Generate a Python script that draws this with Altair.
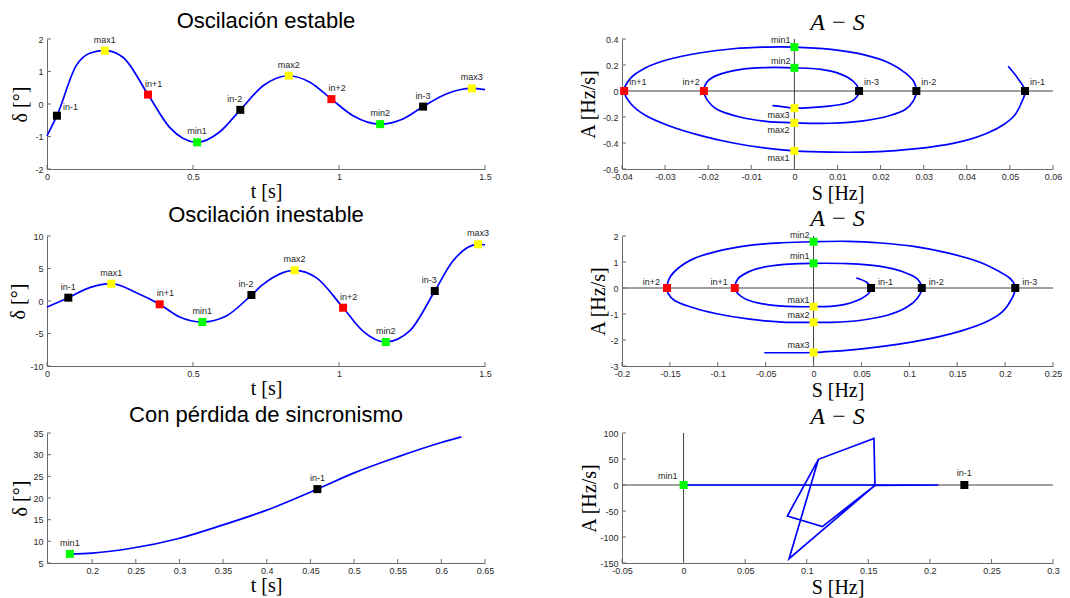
import altair as alt
import pandas as pd

# ---------------- Panel 1: Oscilación estable ----------------
t1 = [0.0, 0.034, 0.1, 0.146, 0.198, 0.26, 0.346, 0.42, 0.514, 0.59, 0.662, 0.74,
      0.828, 0.90, 0.974, 1.048, 1.141, 1.219, 1.288, 1.367, 1.455, 1.5]
d1 = [-0.98, -0.36, 1.18, 1.56, 1.65, 1.44, 0.29, -0.72, -1.18, -0.87, -0.18, 0.56,
      0.87, 0.67, 0.15, -0.36, -0.62, -0.46, -0.08, 0.31, 0.48, 0.44]
m1_lbl = ["in-1", "max1", "in+1", "min1", "in-2", "max2", "in+2", "min2", "in-3", "max3"]
m1_x = [0.034, 0.198, 0.346, 0.514, 0.662, 0.828, 0.974, 1.141, 1.288, 1.455]
m1_y = [-0.36, 1.64, 0.29, -1.18, -0.18, 0.87, 0.15, -0.62, -0.08, 0.48]
m1_pos = ["r", "t", "tr", "t", "tl", "t", "tr", "t", "t", "t"]

# ---------------- Panel 3: Oscilación inestable ----------------
t3 = [0.0, 0.073, 0.146, 0.22, 0.306, 0.386, 0.454, 0.532, 0.614, 0.70, 0.74,
      0.848, 0.922, 1.014, 1.082, 1.16, 1.242, 1.328, 1.39, 1.476, 1.5]
d3 = [-0.92, 0.51, 2.05, 2.66, 1.28, -0.51, -2.46, -3.23, -2.3, 0.92, 2.56,
      4.72, 3.59, -1.03, -4.62, -6.31, -4.6, 1.54, 6.15, 8.72, 8.65]
m3_lbl = ["in-1", "max1", "in+1", "min1", "in-2", "max2", "in+2", "min2", "in-3", "max3"]
m3_x = [0.073, 0.22, 0.386, 0.532, 0.70, 0.848, 1.014, 1.16, 1.328, 1.476]
m3_y = [0.51, 2.66, -0.51, -3.23, 0.92, 4.72, -1.03, -6.31, 1.54, 8.72]
m3_pos = ["t", "t", "tr", "t", "tl", "t", "tr", "t", "tl", "t"]

# ---------------- Panel 5: Con pérdida de sincronismo ----------------
t5 = [0.1745, 0.2, 0.245, 0.298, 0.35, 0.4, 0.458, 0.5, 0.55, 0.6, 0.623]
d5 = [7.1, 7.3, 8.4, 10.6, 13.8, 17.2, 22.05, 25.8, 29.5, 32.8, 34.1]
m5_lbl = ["min1", "in-1"]
m5_x = [0.1745, 0.458]
m5_y = [7.1, 22.05]
m5_pos = ["t", "t"]

# ---------------- Panel 2: A-S (estable) ----------------
s2 = [0.0496, 0.0518, 0.0535,
      0.0526, 0.0511, 0.0485, 0.0447, 0.0386, 0.0311, 0.0235, 0.016, 0.0085, 0.0,
      -0.0066, -0.0142, -0.0217, -0.0293, -0.0346, -0.038, -0.0395,
      -0.038, -0.0346, -0.0293, -0.0217, -0.0142, -0.0066, 0.0, 0.0085, 0.016,
      0.022, 0.0258, 0.0277, 0.0283,
      0.0277, 0.0258, 0.022, 0.016, 0.0085, 0.0, -0.0066, -0.0127, -0.018, -0.0202, -0.021,
      -0.0202, -0.018, -0.0127, -0.0066, 0.0, 0.0062, 0.0107, 0.0137, 0.015,
      0.0137, 0.0107, 0.0062, 0.0, -0.0029, -0.0051]
a2 = [0.19, 0.099, 0.0,
      -0.096, -0.187, -0.26, -0.325, -0.39, -0.434, -0.458, -0.47, -0.47, -0.46,
      -0.44, -0.40, -0.343, -0.265, -0.187, -0.096, 0.0,
      0.099, 0.177, 0.242, 0.294, 0.325, 0.338, 0.338, 0.32, 0.28,
      0.216, 0.138, 0.073, 0.0,
      -0.07, -0.14, -0.19, -0.23, -0.248, -0.245, -0.234, -0.2, -0.14, -0.07, 0.0,
      0.073, 0.12, 0.164, 0.18, 0.178, 0.166, 0.13, 0.073, 0.0,
      -0.07, -0.104, -0.122, -0.132, -0.12, -0.112]
m2_lbl = ["in-1", "max1", "in+1", "min1", "in-2", "max2", "in+2", "min2", "in-3", "max3"]
m2_x = [0.0535, 0.0, -0.0395, 0.0, 0.0283, 0.0, -0.021, 0.0, 0.015, 0.0]
m2_y = [0.0, -0.46, 0.0, 0.338, 0.0, -0.245, 0.0, 0.178, 0.0, -0.132]
m2_pos = ["r2", "bl", "r2", "ul", "r2", "bl", "l2", "ul", "r2", "bl"]

# ---------------- Panel 4: A-S (inestable) ----------------
s4 = [0.0445, 0.055, 0.06,
      0.058, 0.048, 0.027, 0.0, -0.042, -0.07, -0.079, -0.0822,
      -0.0788, -0.0668, -0.0497, -0.0257, 0.0, 0.036, 0.0702, 0.094, 0.108, 0.113,
      0.108, 0.0976, 0.077, 0.0497, 0.019, 0.0, -0.0325, -0.0668, -0.101, -0.128,
      -0.1455, -0.1517, -0.153,
      -0.1507, -0.142, -0.125, -0.101, -0.0668, -0.0325, 0.0, 0.036, 0.0702, 0.1045,
      0.1387, 0.173, 0.1935, 0.2055, 0.2106,
      0.207, 0.197, 0.18, 0.156, 0.1216, 0.0873, 0.053, 0.019, 0.0, -0.0325, -0.0514]
a4 = [0.385, 0.23, 0.0,
      -0.18, -0.44, -0.67, -0.72, -0.67, -0.44, -0.22, 0.0,
      0.36, 0.64, 0.82, 0.92, 0.95, 0.936, 0.83, 0.615, 0.36, 0.0,
      -0.41, -0.73, -1.05, -1.24, -1.32, -1.32, -1.31, -1.2, -0.99, -0.73,
      -0.47, -0.22, 0.0,
      0.36, 0.74, 1.13, 1.41, 1.64, 1.74, 1.78, 1.795, 1.73, 1.6,
      1.36, 1.0, 0.64, 0.36, 0.0,
      -0.41, -0.92, -1.31, -1.63, -1.95, -2.17, -2.33, -2.44, -2.48, -2.49, -2.49]
m4_lbl = ["in-1", "max1", "in+1", "min1", "in-2", "max2", "in+2", "min2", "in-3", "max3"]
m4_x = [0.06, 0.0, -0.0822, 0.0, 0.113, 0.0, -0.153, 0.0, 0.2106, 0.0]
m4_y = [0.0, -0.72, 0.0, 0.95, 0.0, -1.32, 0.0, 1.78, 0.0, -2.48]
m4_pos = ["r4", "ul", "l4", "ul", "r4", "ul", "l4", "ul", "r4", "ul"]

# ---------------- Panel 6: A-S (pérdida de sincronismo) ----------------
s6 = [0.0, 0.207, 0.1554, 0.1546, 0.1095, 0.0843, 0.1127, 0.1554, 0.0857, 0.1095]
a6 = [0.0, 0.0, -0.6, 89.7, 49.4, -59.6, -80.1, -0.6, -141.7, 49.4]
m6_lbl = ["min1", "in-1"]
m6_x = [0.0, 0.228]
m6_y = [0.0, 0.0]
m6_pos = ["l6", "t7"]

# ---------------- ticks ----------------
xt1 = [0, 0.5, 1, 1.5]
yt1 = [-2, -1, 0, 1, 2]
yt3 = [-10, -5, 0, 5, 10]
xt5 = [0.2, 0.25, 0.3, 0.35, 0.4, 0.45, 0.5, 0.55, 0.6, 0.65]
yt5 = [5, 10, 15, 20, 25, 30, 35]
xt2 = [-0.04, -0.03, -0.02, -0.01, 0, 0.01, 0.02, 0.03, 0.04, 0.05, 0.06]
yt2 = [-0.6, -0.4, -0.2, 0, 0.2, 0.4]
xt4 = [-0.2, -0.15, -0.1, -0.05, 0, 0.05, 0.1, 0.15, 0.2, 0.25]
yt4 = [-3, -2, -1, 0, 1, 2]
xt6 = [-0.05, 0, 0.05, 0.1, 0.15, 0.2, 0.25, 0.3]
yt6 = [-150, -100, -50, 0, 50, 100]

COLORS = {"max": "#ffff00", "min": "#00ff00", "in+": "#ff0000", "in-": "#000000"}
POS = {
    "t": ("center", "bottom", 0, -6),
    "t7": ("center", "bottom", 0, -7),
    "tr": ("left", "bottom", -3, -6),
    "tl": ("right", "bottom", 2, -6),
    "r": ("left", "bottom", 6, -4),
    "r2": ("left", "bottom", 5, -4),
    "l2": ("right", "bottom", -4, -4),
    "ul": ("right", "bottom", -4, -2),
    "bl": ("right", "top", -5, 3),
    "r4": ("left", "bottom", 7, -1),
    "l4": ("right", "bottom", -7, -1),
    "l6": ("right", "bottom", -6, -4),
}
LBLEXPR = "replace(datum.label, '\u2212', '-')"
AX = dict(domainColor="#6a6a6a", domainWidth=1, labelColor="#2a2a2a", labelFont="Liberation Sans",
          labelFontSize=9, ticks=False, grid=False, labelFlush=False, labelOverlap=False,
          titleFont="Liberation Serif", titleFontSize=20, titleFontWeight="normal",
          titleColor="#000000", format="~r", labelExpr=LBLEXPR)


def mcolor(lbl):
    for k, v in COLORS.items():
        if lbl.startswith(k):
            return v
    return "#000000"


def panel(lx, ly, mlbl, mx, my, mpos, xdom, ydom, xticks, yticks, title, tstyle,
          xtitle, ytitle, w, h, ytx, xty, interp, cross):
    xs = alt.Scale(domain=xdom, nice=False, zero=False)
    ys = alt.Scale(domain=ydom, nice=False, zero=False)
    xax = alt.Axis(values=xticks, title=xtitle, titleX=w / 2, titleY=xty, titleAlign="center",
                   titleBaseline="middle", labelPadding=3, **AX)
    yax = alt.Axis(values=yticks, title=ytitle, titleX=ytx, titleY=h / 2, titleAngle=270,
                   titleAlign="center", titleBaseline="middle", labelPadding=4, **AX)
    X = lambda: alt.X("x:Q", scale=xs, axis=xax)
    Y = lambda: alt.Y("y:Q", scale=ys, axis=yax)

    layers = []
    if cross:
        layers.append(alt.Chart(pd.DataFrame({"x": [0]})).mark_rule(color="#404040", strokeWidth=1)
                      .encode(x=X()))
        layers.append(alt.Chart(pd.DataFrame({"y": [0]})).mark_rule(color="#404040", strokeWidth=1)
                      .encode(y=Y()))
    # inward ticks
    layers.append(alt.Chart(pd.DataFrame({"x": xticks})).mark_rule(color="#6a6a6a")
                  .encode(x=X(), y=alt.value(h), y2=alt.value(h - 4)))
    layers.append(alt.Chart(pd.DataFrame({"y": yticks})).mark_rule(color="#6a6a6a")
                  .encode(y=Y(), x=alt.value(0), x2=alt.value(4)))

    ldf = pd.DataFrame({"x": lx, "y": ly, "i": list(range(len(lx)))})
    layers.append(alt.Chart(ldf).mark_line(color="#0000ff", strokeWidth=1.7, interpolate=interp)
                  .encode(x=X(), y=Y(), order="i:Q"))

    mdf = pd.DataFrame({"x": mx, "y": my, "lbl": mlbl, "pos": mpos,
                        "c": [mcolor(l) for l in mlbl]})
    layers.append(alt.Chart(mdf).mark_square(size=64, opacity=1)
                  .encode(x=X(), y=Y(), color=alt.Color("c:N", scale=None)))
    for p in sorted(set(mpos)):
        al, bl, dx, dy = POS[p]
        sub = mdf[mdf["pos"] == p]
        layers.append(alt.Chart(sub).mark_text(align=al, baseline=bl, dx=dx, dy=dy, fontSize=9,
                                               font="Liberation Sans", color="#262626")
                      .encode(x=X(), y=Y(), text="lbl:N"))

    if tstyle == "sans":
        tp = alt.TitleParams(text=title, font="Liberation Sans", fontSize=22, fontWeight="normal",
                             color="#000000", offset=2)
    else:
        tp = alt.TitleParams(text=title, font="Liberation Serif", fontSize=24, fontWeight="normal",
                             fontStyle="italic", color="#000000", offset=0)
    return alt.layer(*layers).properties(width=w, height=h, title=tp)


WL, WR, H = 438, 431, 130
p1 = panel(t1, d1, m1_lbl, m1_x, m1_y, m1_pos, [0, 1.5], [-2, 2], xt1, yt1,
           "Oscilación estable", "sans", "t [s]", "δ [°]", WL, H, -27, 22, "monotone", False)
p3 = panel(t3, d3, m3_lbl, m3_x, m3_y, m3_pos, [0, 1.5], [-10, 10], xt1, yt3,
           "Oscilación inestable", "sans", "t [s]", "δ [°]", WL, H, -29, 22, "monotone", False)
p5 = panel(t5, d5, m5_lbl, m5_x, m5_y, m5_pos, [0.1483, 0.65], [5, 35], xt5, yt5,
           "Con pérdida de sincronismo", "sans", "t [s]", "δ [°]", WL, H, -27, 22, "monotone", False)
p2 = panel(s2, a2, m2_lbl, m2_x, m2_y, m2_pos, [-0.04, 0.06], [-0.6, 0.4], xt2, yt2,
           "A − S", "serif", "S [Hz]", "A [Hz/s]", WR, H, -34, 24, "catmull-rom", True)
p4 = panel(s4, a4, m4_lbl, m4_x, m4_y, m4_pos, [-0.2, 0.25], [-3, 2], xt4, yt4,
           "A − S", "serif", "S [Hz]", "A [Hz/s]", WR, H, -24, 24, "catmull-rom", True)
p6 = panel(s6, a6, m6_lbl, m6_x, m6_y, m6_pos, [-0.05, 0.3], [-150, 100], xt6, yt6,
           "A − S", "serif", "S [Hz]", "A [Hz/s]", WR, H, -33, 24, "linear", True)

chart = (alt.concat(p1, p2, p3, p4, p5, p6, columns=2,
                    spacing=alt.RowColnumber(row=67, column=137), bounds="flush")
         .resolve_scale(x="independent", y="independent")
         .properties(padding={"left": 8, "top": 10, "right": 4, "bottom": 2}, background="#ffffff")
         .configure_view(stroke=None))

chart.save("out.html", embed_options={"renderer": "svg", "actions": False})
